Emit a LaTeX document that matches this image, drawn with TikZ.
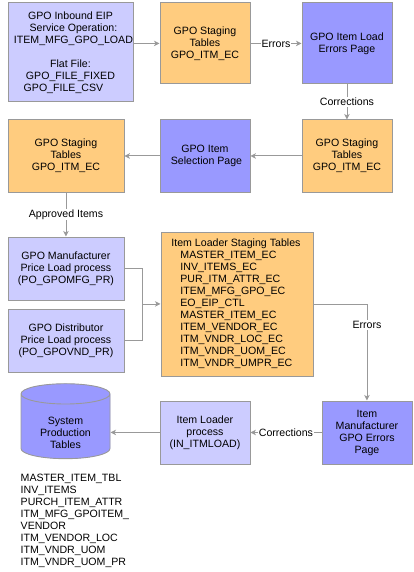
\documentclass[tikz,border=0pt]{standalone}
\usepackage{fontspec}
\setmainfont{Liberation Sans}
\usetikzlibrary{arrows.meta,shapes.geometric,calc}
\definecolor{lav}{HTML}{CCCCFF}
\definecolor{blu}{HTML}{9999FF}
\definecolor{org}{HTML}{FFCC7F}
\definecolor{edge}{HTML}{999999}
\tikzset{
  base/.style={draw=edge,line width=0.9pt,inner sep=0pt,align=center,font=\fontsize{10.6}{12}\selectfont,text=black},
  lavbox/.style={base,fill=lav},
  blubox/.style={base,fill=blu},
  orgbox/.style={base,fill=org},
  conn/.style={draw=edge,line width=0.9pt,-{Stealth[length=5.5pt,width=5.5pt,inset=1.5pt]}},
  plainconn/.style={draw=edge,line width=0.9pt},
  lbl/.style={fill=white,inner sep=1pt,font=\fontsize{10.6}{12}\selectfont,text=black},
  listing/.style={inner sep=0pt,align=left,font=\fontsize{10.6}{12}\selectfont,text=black}
}
\newcommand{\boxat}[7]{\node[#1,minimum width=#4 pt-#2 pt,minimum height=#5 pt-#3 pt,anchor=north west] (#6) at (#2,#3) {#7};}
\begin{document}
\begin{tikzpicture}[x=1pt,y=-1pt]
\useasboundingbox (0,0) rectangle (413,572);
\boxat{lavbox}{7.5}{2.5}{132.5}{101.5}{a}{GPO Inbound EIP\\\hspace*{6pt}Service Operation:\\\hspace*{6pt}ITEM\_MFG\_GPO\_LOAD\\[12pt]Flat File:\\GPO\_FILE\_FIXED\\GPO\_FILE\_CSV\hspace*{14pt}}
\boxat{orgbox}{159.5}{2.5}{249.5}{83.5}{b}{GPO Staging\\Tables\\GPO\_ITM\_EC}
\boxat{blubox}{301.5}{2.5}{391.5}{83.5}{c}{GPO Item Load\\Errors Page}
\boxat{orgbox}{301.5}{119.5}{391.5}{191.5}{d}{GPO Staging\\Tables\\GPO\_ITM\_EC}
\boxat{blubox}{159.5}{119.5}{249.5}{191.5}{e}{GPO Item\\\hspace*{3pt}Selection Page}
\boxat{orgbox}{7.5}{119.5}{123.5}{191.5}{f}{GPO Staging\\Tables\\GPO\_ITM\_EC}
\boxat{lavbox}{7.5}{236.5}{123.5}{299.5}{g}{GPO Manufacturer\\Price Load process\\(PO\_GPOMFG\_PR)}
\boxat{lavbox}{7.5}{308.5}{123.5}{371.5}{h}{GPO Distributor\\Price Load process\\(PO\_GPOVND\_PR)}
\boxat{orgbox}{160.5}{231.5}{312.5}{375.5}{i}{\hspace*{7pt}\begin{tabular}{@{}l@{}}\hspace*{-9pt}Item Loader Staging Tables\\MASTER\_ITEM\_EC\\INV\_ITEMS\_EC\\PUR\_ITM\_ATTR\_EC\\ITEM\_MFG\_GPO\_EC\\EO\_EIP\_CTL\\MASTER\_ITEM\_EC\\ITEM\_VENDOR\_EC\\ITM\_VNDR\_LOC\_EC\\ITM\_VNDR\_UOM\_EC\\ITM\_VNDR\_UMPR\_EC\end{tabular}}
\boxat{blubox}{321.5}{400.5}{411.5}{463.5}{j}{Item\\Manufacturer\\GPO Errors\\Page}
\boxat{lavbox}{159.5}{400.5}{249.5}{463.5}{k}{Item Loader\\process\\(IN\_ITMLOAD)}
\node[base,fill=blu,cylinder,shape border rotate=90,aspect=0.4,minimum width=89pt,minimum height=72pt,cylinder uses custom fill,cylinder body fill=blu,cylinder end fill=blu] (cyl) at (65.5,426.5) {\mbox{}\\[8pt]System\\Production\\Tables};
\node[listing,anchor=north west] (list) at (20.5,473.5) {MASTER\_ITEM\_TBL\\INV\_ITEMS\\PURCH\_ITEM\_ATTR\\ITM\_MFG\_GPOITEM\_\\VENDOR\\ITM\_VENDOR\_LOC\\ITM\_VNDR\_UOM\\ITM\_VNDR\_UOM\_PR};
\draw[conn] (b.west -| a.east) -- (b.west);
\draw[conn] (b) -- node[lbl]{Errors} (c);
\draw[conn] (c) -- node[lbl]{Corrections} (d);
\draw[conn] (d) -- (e);
\draw[conn] (e) -- (f);
\draw[conn] (f) -- node[lbl]{Approved Items} (g);
\coordinate (m) at ($(g.east)+(18,0)$);
\draw[plainconn] (g.east) -- (m) -- (m |- h.east) -- (h.east);
\draw[conn] (m |- i.west) -- (i.west);
\coordinate (n) at (j.north |- i.east);
\draw[conn] (i.east) -- (n) -- node[lbl,pos=0.22]{Errors} (j.north);
\draw[conn] (j) -- node[lbl]{Corrections} (k);
\coordinate (cylside) at (110.5,431.5);
\draw[conn] (k.west) -- (k.west -| cylside);
\end{tikzpicture}
\end{document}
